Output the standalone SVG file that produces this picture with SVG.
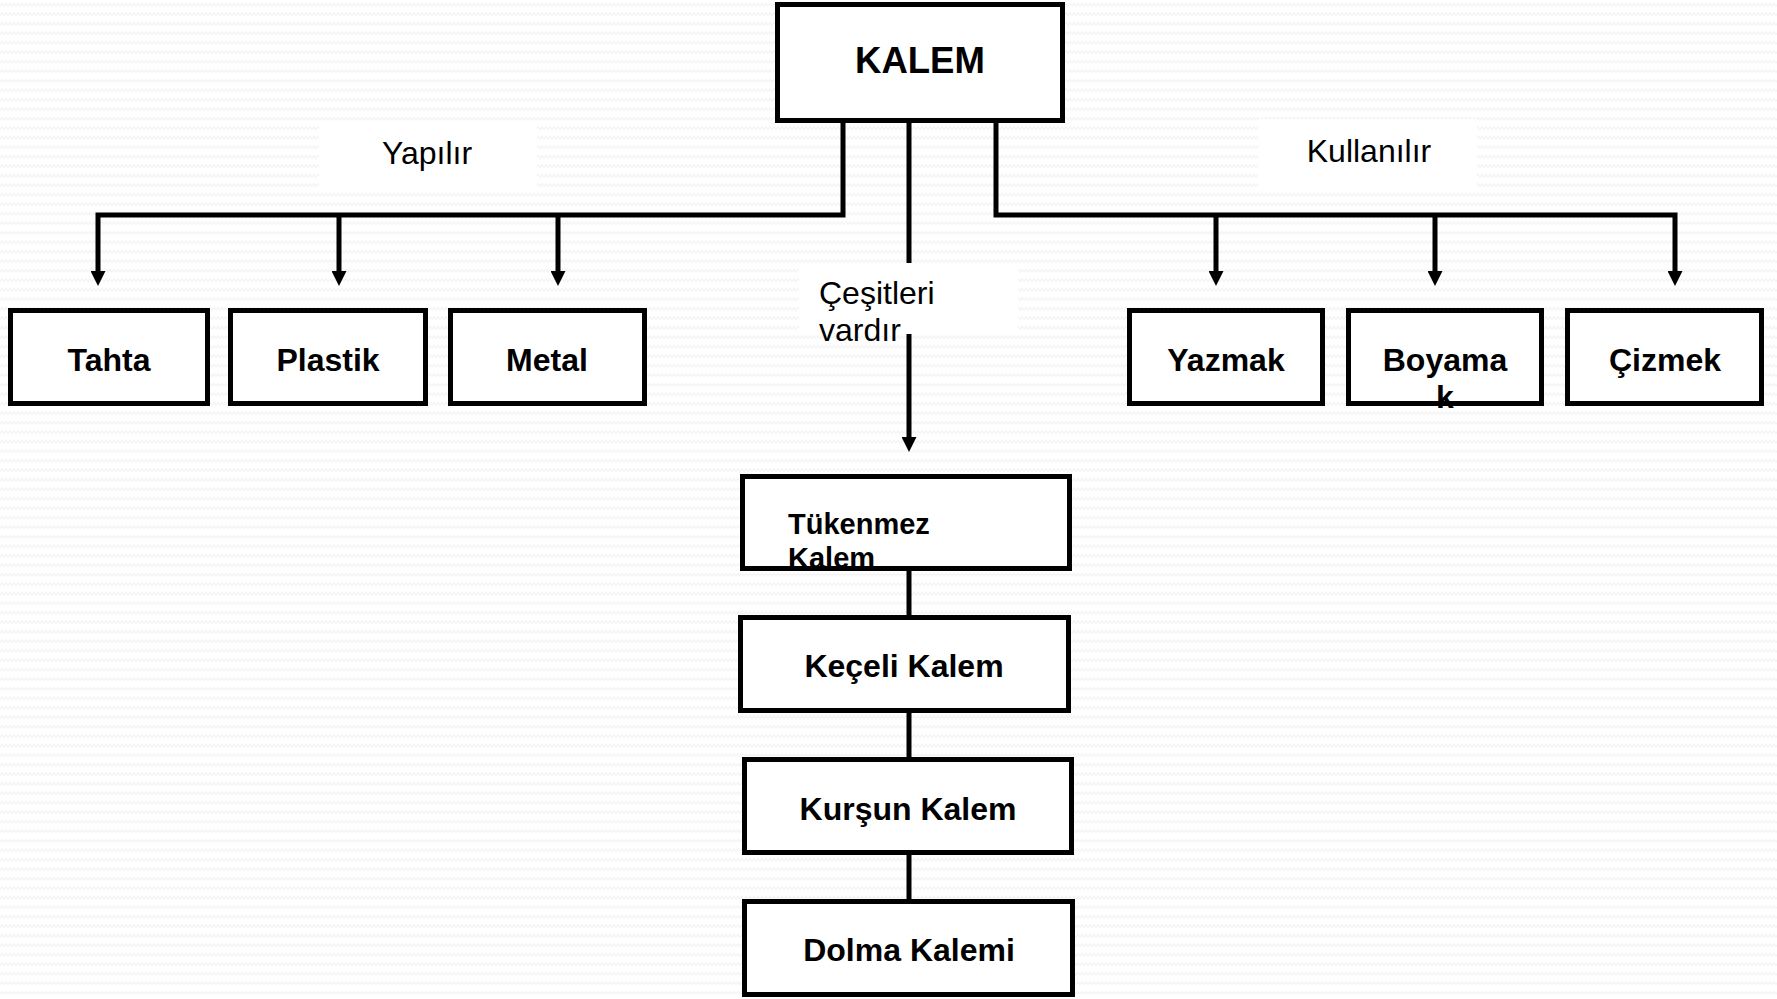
<svg xmlns="http://www.w3.org/2000/svg" width="1777" height="999" viewBox="0 0 1777 999">
<defs>
<pattern id="bg" width="8" height="9.5" patternUnits="userSpaceOnUse">
<rect width="8" height="9.5" fill="#ffffff"/>
<polyline points="0,6 2,3.5 4,6 6,3.5 8,6" fill="none" stroke="#f1f1f1" stroke-width="1"/>
</pattern>
<marker id="arr" viewBox="0 0 15 15" refX="0" refY="7.5" markerWidth="15" markerHeight="15" markerUnits="userSpaceOnUse" orient="auto">
<path d="M0,0 L15,7.5 L0,15 z" fill="#000"/>
</marker>
<style>
.box{fill:#fff;stroke:#000;stroke-width:5}
.lbl{fill:#fff}
.bt{font-family:"Liberation Sans",Arial,sans-serif;font-weight:bold;font-size:32px;fill:#000;text-anchor:middle}
.lt{font-family:"Liberation Sans",Arial,sans-serif;font-size:32px;fill:#000}
.c{fill:none;stroke:#000;stroke-width:5;stroke-linejoin:miter}
</style>
</defs>
<rect width="1777" height="999" fill="url(#bg)"/>

<g id="connectors">
<path class="c" d="M843,123 V215 H98 V271" marker-end="url(#arr)"/>
<path class="c" d="M339,215 V271" marker-end="url(#arr)"/>
<path class="c" d="M558,215 V271" marker-end="url(#arr)"/>
<path class="c" d="M996,123 V215 H1675 V271" marker-end="url(#arr)"/>
<path class="c" d="M1216,215 V271" marker-end="url(#arr)"/>
<path class="c" d="M1435,215 V271" marker-end="url(#arr)"/>
<path class="c" d="M909,123 V437" marker-end="url(#arr)"/>
<path class="c" d="M909,569 V615"/>
<path class="c" d="M909,713 V757"/>
<path class="c" d="M909,855 V899"/>
</g>

<g id="label-yapilir">
<rect class="lbl" x="319" y="123" width="218" height="67"/>
<text class="lt" x="427" y="164" text-anchor="middle">Yapılır</text>
</g>
<g id="label-kullanilir">
<rect class="lbl" x="1258" y="119" width="219" height="71"/>
<text class="lt" x="1369" y="162" text-anchor="middle">Kullanılır</text>
</g>
<g id="label-cesitleri">
<rect class="lbl" x="799" y="263" width="219" height="71"/>
<text class="lt" x="819" y="304">Çeşitleri</text>
<text class="lt" x="819" y="341">vardır</text>
</g>

<g id="kalem">
<rect class="box" x="777.5" y="4.5" width="285" height="116"/>
<text class="bt" x="920" y="73" style="font-size:36.5px">KALEM</text>
</g>
<g id="tahta">
<rect class="box" x="10.5" y="310.5" width="197" height="93"/>
<text class="bt" x="109" y="371">Tahta</text>
</g>
<g id="plastik">
<rect class="box" x="230.5" y="310.5" width="195" height="93"/>
<text class="bt" x="328" y="371">Plastik</text>
</g>
<g id="metal">
<rect class="box" x="450.5" y="310.5" width="194" height="93"/>
<text class="bt" x="547" y="371">Metal</text>
</g>
<g id="yazmak">
<rect class="box" x="1129.5" y="310.5" width="193" height="93"/>
<text class="bt" x="1226" y="371">Yazmak</text>
</g>
<g id="boyamak">
<rect class="box" x="1348.5" y="310.5" width="193" height="93"/>
<text class="bt" x="1445" y="371">Boyama</text>
<text class="bt" x="1445" y="408">k</text>
</g>
<g id="cizmek">
<rect class="box" x="1567.5" y="310.5" width="194" height="93"/>
<text class="bt" x="1665" y="371">Çizmek</text>
</g>
<g id="tukenmez">
<rect class="box" x="742.5" y="476.5" width="327" height="92"/>
<text class="bt" x="788" y="534" style="text-anchor:start;font-size:29px">Tükenmez</text>
<text class="bt" x="788" y="568" style="text-anchor:start;font-size:29px">Kalem</text>
</g>
<g id="keceli">
<rect class="box" x="740.5" y="617.5" width="328" height="93"/>
<text class="bt" x="904" y="677">Keçeli Kalem</text>
</g>
<g id="kursun">
<rect class="box" x="744.5" y="759.5" width="327" height="93"/>
<text class="bt" x="908" y="820">Kurşun Kalem</text>
</g>
<g id="dolma">
<rect class="box" x="744.5" y="901.5" width="328" height="93"/>
<text class="bt" x="909" y="961">Dolma Kalemi</text>
</g>
</svg>
